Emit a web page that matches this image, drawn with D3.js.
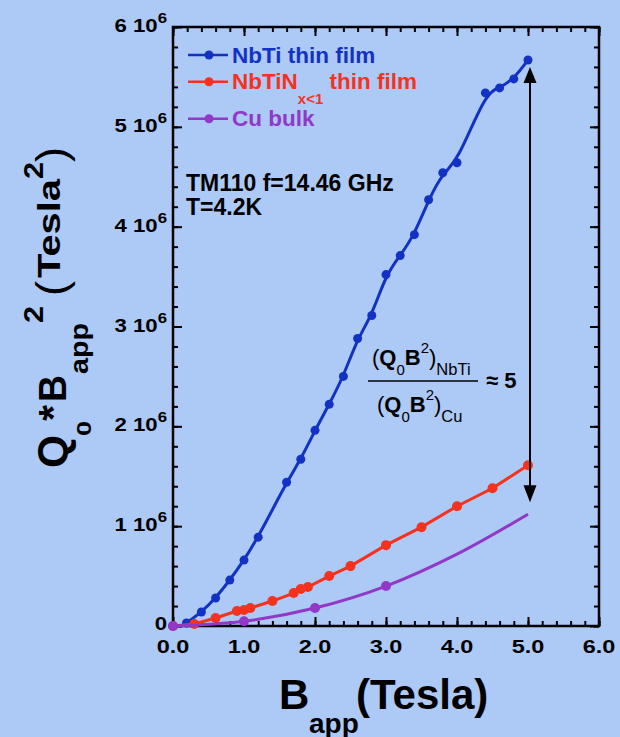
<!DOCTYPE html>
<html>
<head>
<meta charset="utf-8">
<script src="https://cdn.jsdelivr.net/npm/d3@7"></script>
<style>
body{margin:0;background:#adc9f6;}
svg text{font-family:"Liberation Sans",Arial,sans-serif;}
</style>
</head>
<body>
<svg id="svg" width="620" height="737"></svg>
<script>
// values (B in Tesla, Q0*B^2 in units of 1e6)
var nbtiB = [0.19,0.40,0.60,0.80,1.00,1.20,1.60,1.80,2.00,2.20,2.40,2.60,2.80,3.00,3.20,3.40,3.60,3.80,4.00,4.40,4.60,4.80,5.00];
var nbtiQ = [0.03,0.14,0.28,0.46,0.66,0.89,1.44,1.67,1.96,2.22,2.50,2.88,3.11,3.52,3.71,3.92,4.27,4.54,4.64,5.34,5.39,5.48,5.67];
var nbtinB = [0,0.30,0.60,0.90,1.00,1.09,1.40,1.70,1.80,1.90,2.20,2.50,3.00,3.50,4.00,4.50,5.00];
var nbtinQ = [0,0.02,0.08,0.15,0.16,0.18,0.25,0.33,0.37,0.39,0.50,0.60,0.81,0.99,1.20,1.38,1.61];
var cuB = [0,1,2,3];
var cuQ = [0,0.047,0.18,0.40];
var cuLineB = [0,1,2,3,4,5];
var cuLineQ = [0,0.047,0.18,0.40,0.72,1.12];

var xTicks = [0,1,2,3,4,5,6];
var yTicks = [0,1,2,3,4,5,6];
var legendNames = ['NbTi thin film','NbTiN','Cu bulk'];
var arrowB = 5.0, arrowTop = 5.60, arrowBottom = 1.24;

var blue = '#1232c4', red = '#f5321e', purple = '#9138c9';

var s = d3.select('#svg');
var x = d3.scaleLinear().domain([0,6]).range([173,599]);
var y = d3.scaleLinear().domain([0,6]).range([626,27]);

s.append('rect')
    .attr('width',620).attr('height',737)
    .attr('fill','#adc9f6');

function ticks(){
    var minorX = d3.range(0,6.001,0.2), minorY = d3.range(0,6.001,0.2);
    var defs = [
        [d3.axisBottom(x), 'translate(0,626)', minorX, xTicks],
        [d3.axisTop(x), 'translate(0,27)', minorX, xTicks],
        [d3.axisLeft(y), 'translate(173,0)', minorY, yTicks],
        [d3.axisRight(y), 'translate(599,0)', minorY, yTicks]
    ];
    defs.forEach(function(d){
        var gm = s.append('g').attr('transform',d[1])
            .call(d[0].tickValues(d[2]).tickSizeInner(-5).tickSizeOuter(0).tickFormat(''));
        var gM = s.append('g').attr('transform',d[1])
            .call(d[0].tickValues(d[3]).tickSizeInner(-9).tickSizeOuter(0).tickFormat(''));
        [gm,gM].forEach(function(g){
            g.select('.domain').remove();
            g.selectAll('line').attr('stroke','#000').attr('stroke-width',2);
        });
    });
    s.append('rect')
        .attr('x',173).attr('y',27).attr('width',426).attr('height',599)
        .attr('fill','none').attr('stroke','#000').attr('stroke-width',2.5);
}

function tickLabels(){
    s.selectAll('.xl').data(xTicks).enter().append('text')
        .attr('transform',function(d){return 'translate('+x(d)+',653) scale(1.27,1)';})
        .attr('text-anchor','middle')
        .attr('font-size',18.5).attr('font-weight','bold')
        .text(function(d){return d.toFixed(1);});
    var t = s.selectAll('.yl').data(yTicks).enter().append('text')
        .attr('transform',function(d){return 'translate(167,'+(y(d)+(d==0?3.5:5))+') scale(1.2,1)';})
        .attr('text-anchor','end')
        .attr('font-size',18.5).attr('font-weight','bold');
    t.each(function(d){
        var e = d3.select(this);
        if(d==0){ e.text('0'); return; }
        e.append('tspan').text(d+' 10');
        e.append('tspan').attr('font-size',14).attr('dy',-9).text('6');
    });
}

function series(B, Q, color, curve){
    var pts = B.map(function(b,i){return [b,Q[i]];});
    s.append('path')
        .attr('d', d3.line().x(function(d){return x(d[0]);}).y(function(d){return y(d[1]);}).curve(curve)(pts))
        .attr('fill','none').attr('stroke',color).attr('stroke-width',3);
}

function markers(B, Q, color, r){
    s.append('g').selectAll('circle').data(B).enter().append('circle')
        .attr('cx',function(d){return x(d);})
        .attr('cy',function(d,i){return y(Q[i]);})
        .attr('r',r).attr('fill',color);
}

function rotText(txt, yBottom, yTop, base, size, weight){
    s.append('text')
        .attr('transform','translate('+base+','+yBottom+') rotate(-90)')
        .attr('font-size',size).attr('font-weight',weight||'bold')
        .attr('textLength',yBottom-yTop).attr('lengthAdjust','spacingAndGlyphs')
        .text(txt);
}

function titles(){
    // y title, pieces from bottom to top
    rotText('Q',468,435,67,42);
    rotText('0',436,421,91,20);
    rotText('*',421,405,67,40);
    rotText('B',402,375,66,38);
    rotText('app',374,323,88,26);
    rotText('2',323,306,43,28);
    rotText('(',296,281,66,42,'normal');
    rotText('Tesla',278,179,60,32);
    rotText('2',179,162,43,28);
    rotText(')',162,147,66,42,'normal');
    // x title
    s.append('text').attr('x',279).attr('y',709).attr('font-size',42).attr('font-weight','bold').text('B');
    s.append('text').attr('x',309).attr('y',733).attr('font-size',28).attr('font-weight','bold').text('app');
    s.append('text').attr('x',356).attr('y',709).attr('font-size',42).attr('font-weight','bold').text('(Tesla)');
}

function legend(){
    var rows = [55,81.7,118.7], cols = [blue,red,purple], base = [63,89,126];
    rows.forEach(function(ry,i){
        s.append('line').attr('x1',188).attr('x2',228).attr('y1',ry).attr('y2',ry)
            .attr('stroke',cols[i]).attr('stroke-width',2.5);
        s.append('circle').attr('cx',209).attr('cy',ry).attr('r',4.5).attr('fill',cols[i]);
        var t = s.append('text').attr('x',232).attr('y',base[i])
            .attr('font-size',22.5).attr('font-weight','bold').attr('fill',cols[i]);
        t.append('tspan').text(legendNames[i]);
        if(i==1){
            t.append('tspan').attr('font-size',15).attr('dy',15).text('x<1');
            t.append('tspan').attr('dy',-15).text(' thin film');
        }
    });
}

function notes(){
    s.append('text').attr('x',186).attr('y',191).attr('font-size',23).attr('font-weight','bold').text('TM110 f=14.46 GHz');
    s.append('text').attr('x',186).attr('y',215).attr('font-size',23).attr('font-weight','bold').text('T=4.2K');

    function frac(x0, y0, sub){
        var t = s.append('text').attr('x',x0).attr('y',y0).attr('font-size',22);
        t.append('tspan').text('(');
        t.append('tspan').attr('font-weight','bold').text('Q');
        t.append('tspan').attr('font-size',15).attr('dy',10).text('0');
        t.append('tspan').attr('font-weight','bold').attr('dy',-10).text('B');
        t.append('tspan').attr('font-size',15).attr('dy',-12).text('2');
        t.append('tspan').attr('dy',12).text(')');
        t.append('tspan').attr('font-size',16.5).attr('dy',10).text(sub);
    }
    frac(372,365,'NbTi');
    frac(377,412,'Cu');
    s.append('line').attr('x1',368).attr('x2',478).attr('y1',381).attr('y2',381)
        .attr('stroke','#000').attr('stroke-width',1.5);
    s.append('text').attr('x',486).attr('y',388).attr('font-size',22).attr('font-weight','bold').text('\u2248 5');

    // double arrow
    var ax = x(arrowB)+2, yt = y(arrowTop), yb = y(arrowBottom);
    s.append('line').attr('x1',ax).attr('x2',ax).attr('y1',yt+14).attr('y2',yb-14)
        .attr('stroke','#000').attr('stroke-width',2);
    s.append('path').attr('d','M'+ax+','+yt+'L'+(ax-6.5)+','+(yt+16)+'L'+(ax+6.5)+','+(yt+16)+'Z');
    s.append('path').attr('d','M'+ax+','+yb+'L'+(ax-6.5)+','+(yb-17)+'L'+(ax+6.5)+','+(yb-17)+'Z');
}

ticks();
tickLabels();
series(nbtiB, nbtiQ, blue, d3.curveBasis);
markers(nbtiB, nbtiQ, blue, 4.5);
series(nbtinB, nbtinQ, red, d3.curveLinear);
markers(nbtinB, nbtinQ, red, 5);
series(cuLineB, cuLineQ, purple, d3.curveMonotoneX);
markers(cuB, cuQ, purple, 5);
titles();
legend();
notes();
</script>
</body>
</html>
